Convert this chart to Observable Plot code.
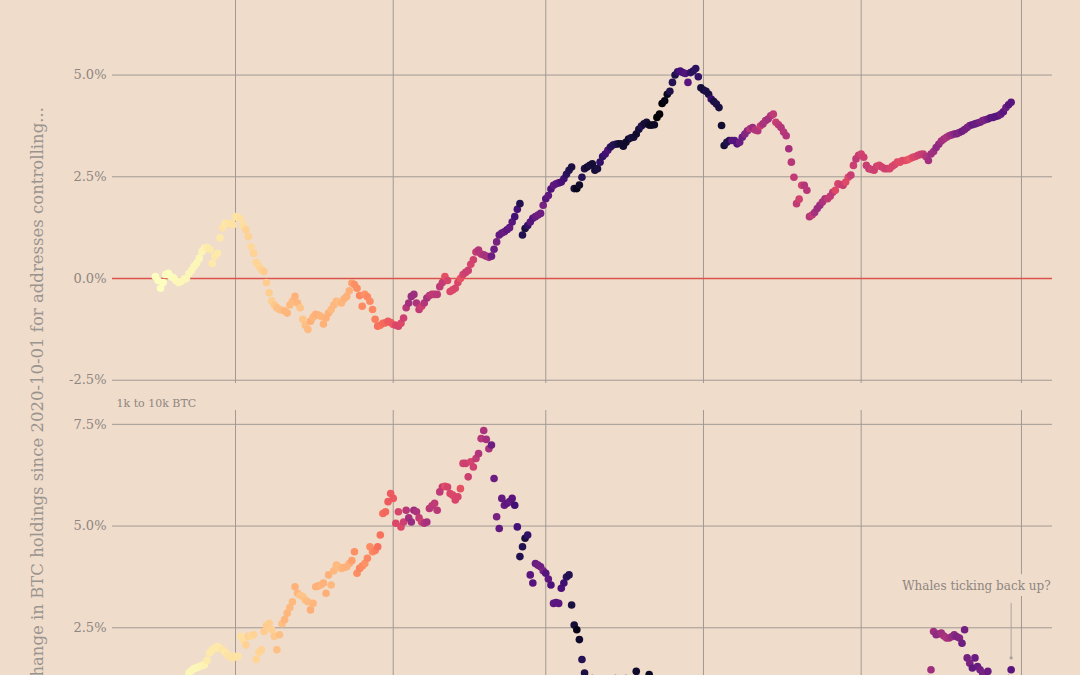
<!DOCTYPE html>
<html><head><meta charset="utf-8">
<script src="https://cdn.jsdelivr.net/npm/d3@7"></script>
<script src="https://cdn.jsdelivr.net/npm/@observablehq/plot@0.6"></script>
<style>
html,body{margin:0;padding:0;background:#f0dccb;overflow:hidden;width:1080px;height:675px}
#wrap{position:relative;width:1080px;height:675px;overflow:hidden;background:#f0dccb}
#chart{position:absolute;left:0;top:-72px}
#ylab{position:absolute;left:0;top:0}
</style></head><body>
<div id="wrap"><div id="chart"></div>
<svg id="ylab" width="80" height="675"><text id="ylabText" transform="translate(43,107) rotate(-90)" text-anchor="end" font-family="DejaVu Serif" font-size="16.5" fill="#9a948f"></text></svg>
</div>
<script>
const BG = "#f0dccb";
const yLabel = "Change in BTC holdings since 2020-10-01 for addresses controlling...";
const groups = ["10k to 100k BTC", "1k to 10k BTC"];
const firstDay = "2020-10-01";
const lastDay = "2021-08-28";
const yTicks = [-2.5, 0, 2.5, 5, 7.5];

// BTC price (k USD), daily, 2020-10-01 .. 2021-08-28 (drives colour)
const priceK = [
10.6,10.6,10.6,10.8,10.6,10.6,10.7,10.9,11.1,11.3,11.4,11.5,11.4,11.4,11.5,11.3,11.4,11.5,11.75,11.9,12.8,12.97,12.93,13.1,13.03,13.07,13.64,13.27,13.56,13.8,13.8,
13.74,13.55,14.0,14.15,15.6,15.58,14.83,15.48,15.33,15.3,15.7,16.3,16.3,16.07,15.97,16.73,17.65,17.8,17.82,18.68,18.7,18.4,18.36,19.1,18.73,17.15,17.14,17.72,18.18,19.63,
18.8,19.2,19.45,18.7,19.15,19.36,19.17,18.32,18.55,18.26,18.03,18.8,19.14,19.25,19.44,21.3,22.8,23.1,23.86,23.48,22.75,23.82,23.25,23.72,24.66,26.44,26.28,27.08,27.36,28.84,29.0,
29.37,32.13,32.78,31.97,33.99,36.82,39.37,40.8,40.25,38.24,35.54,33.9,37.3,39.19,36.8,36.18,35.79,36.63,36.07,35.55,30.83,33.0,32.1,32.29,32.37,32.57,30.43,33.47,34.32,34.3,33.11,
33.54,35.51,37.47,36.93,38.29,39.26,38.9,46.2,46.48,44.9,47.9,47.5,47.1,48.7,47.9,49.1,52.1,51.6,55.9,55.9,57.4,54.1,48.9,49.7,47.1,46.3,46.2,45.1,
49.6,48.4,50.5,48.4,48.8,48.9,51.2,52.4,54.9,55.9,57.3,57.8,61.2,59.0,55.6,56.9,58.9,57.6,58.3,58.1,57.35,54.1,54.3,52.3,51.3,55.0,55.8,55.8,57.6,58.8,58.9,
59.1,59.0,57.1,58.2,59.1,58.0,56.0,58.1,58.1,59.8,60.0,59.9,63.5,62.9,63.3,61.6,60.3,56.3,55.7,56.5,53.8,51.7,51.1,50.1,49.0,54.0,55.0,54.8,53.6,57.8,
57.8,56.6,57.2,53.3,57.4,56.4,57.4,58.8,58.2,55.9,56.8,49.2,49.7,49.9,46.8,46.7,43.5,42.9,37.0,40.8,37.3,37.5,34.8,38.8,38.4,39.3,38.5,35.7,34.6,35.7,37.3,
36.7,37.6,39.2,36.9,35.5,35.8,33.6,33.5,37.3,36.7,37.3,35.6,39.1,40.2,40.4,38.3,38.1,35.8,35.6,35.7,31.7,32.5,33.7,34.7,31.6,32.2,34.6,34.4,35.9,35.0,
33.5,33.8,34.7,35.3,33.7,34.2,33.9,32.9,33.8,33.5,34.3,33.1,32.7,32.8,31.8,31.4,31.5,31.8,30.8,29.8,32.1,32.3,33.6,34.3,35.4,37.3,39.4,40.0,40.0,42.2,41.6,
39.9,39.2,38.2,39.7,40.9,42.8,44.6,43.8,46.3,45.6,45.6,44.4,47.8,47.1,47.0,45.9,44.7,44.6,46.8,49.3,48.9,49.3,49.5,47.7,49.0,46.9,49.1,48.9
];

// % change since 2020-10-01, top facet (10k to 100k BTC)
const changeLarge = [
0.05,-0.05,-0.24,-0.1,0.1,0.13,0.05,0.02,-0.05,-0.1,
-0.07,-0.02,0.0,0.12,0.2,0.3,0.38,0.5,0.66,0.74,
0.76,0.72,0.37,0.55,0.62,1.0,1.25,1.35,1.36,1.35,
1.32,1.52,1.5,1.47,1.3,1.2,1.03,0.78,0.62,0.4,
0.3,0.22,0.17,-0.1,-0.35,-0.55,-0.65,-0.72,-0.76,-0.78,
-0.8,-0.85,-0.65,-0.56,-0.44,-0.6,-0.72,-1.0,-1.15,-1.25,
-1.05,-0.95,-0.88,-0.9,-0.93,-1.12,-0.97,-0.85,-0.76,-0.65,
-0.56,-0.58,-0.6,-0.5,-0.44,-0.3,-0.11,-0.15,-0.24,-0.42,
-0.68,-0.39,-0.45,-0.56,-0.76,-1.0,-1.17,-1.15,-1.1,-1.09,
-1.05,-1.08,-1.13,-1.15,-1.17,-1.1,-0.97,-0.72,-0.6,-0.44,
-0.39,-0.6,-0.76,-0.68,-0.6,-0.48,-0.42,-0.39,-0.39,-0.39,
-0.2,-0.1,0.05,-0.05,-0.32,-0.28,-0.24,-0.1,0.0,0.1,
0.15,0.2,0.35,0.46,0.65,0.7,0.6,0.58,0.55,0.52,
0.55,0.72,0.9,1.07,1.12,1.15,1.2,1.25,1.39,1.52,
1.7,1.84,1.07,1.23,1.3,1.39,1.48,1.52,1.56,1.6,
1.8,1.96,2.04,2.2,2.29,2.33,2.35,2.37,2.45,2.56,
2.66,2.74,2.21,2.21,2.3,2.49,2.7,2.74,2.78,2.82,
2.66,2.7,2.86,3.0,3.06,3.15,3.23,3.28,3.3,3.31,
3.31,3.25,3.35,3.43,3.46,3.47,3.55,3.67,3.75,3.8,
3.84,3.77,3.77,3.78,3.96,4.04,4.3,4.37,4.53,4.6,
4.82,5.0,5.08,5.1,5.06,5.04,4.82,5.06,5.1,5.16,
4.96,4.69,4.63,4.6,4.53,4.41,4.35,4.29,4.2,3.76,
3.27,3.35,3.39,3.39,3.39,3.31,3.35,3.47,3.55,3.63,
3.68,3.71,3.65,3.63,3.75,3.8,3.88,3.92,4.0,4.04,
3.84,3.78,3.71,3.6,3.51,3.19,2.86,2.49,1.84,1.95,
2.29,2.29,2.17,1.52,1.56,1.62,1.72,1.8,1.88,1.96,
1.96,2.02,2.12,2.17,2.33,2.31,2.29,2.37,2.49,2.54,
2.78,2.94,3.03,3.06,2.98,2.78,2.7,2.68,2.66,2.76,
2.78,2.74,2.7,2.7,2.7,2.76,2.8,2.86,2.86,2.9,
2.9,2.92,2.95,2.98,3.0,3.03,3.05,3.06,3.0,2.9,
3.06,3.12,3.22,3.3,3.38,3.43,3.47,3.51,3.53,3.55,
3.56,3.59,3.62,3.66,3.71,3.76,3.78,3.8,3.82,3.84,
3.88,3.9,3.92,3.95,3.96,3.98,4.0,4.04,4.1,4.2,
4.27,4.33
];

// % change since 2020-10-01, bottom facet (1k to 10k BTC)
const changeMid = [
0,0.15,0.3,0.2,0.45,0.55,0.5,0.7,0.8,0.9,
1.0,1.1,1.2,1.39,1.45,1.5,1.52,1.55,1.57,1.59,
1.7,1.88,1.95,2.0,2.04,2.0,1.96,1.9,1.84,1.78,
1.76,1.8,1.8,2.29,2.2,2.08,2.29,2.3,2.33,1.72,
1.9,1.96,2.41,2.55,2.61,2.45,2.29,1.96,2.33,2.6,
2.7,2.86,3.0,3.14,3.51,3.35,3.3,3.27,3.18,3.14,
2.94,3.1,3.51,3.53,3.55,3.6,3.35,3.8,3.55,3.9,
4.04,4.0,3.96,3.98,4.0,4.08,4.15,4.37,3.84,3.96,
4.02,4.08,4.21,4.49,4.37,4.4,4.49,4.78,5.31,5.35,
5.6,5.8,5.68,5.07,5.35,4.98,5.1,5.39,5.2,5.1,
5.39,5.35,5.2,5.1,5.07,5.1,5.43,5.5,5.56,5.39,
5.84,5.96,5.98,5.96,5.8,5.76,5.64,5.72,5.92,6.54,
6.54,6.21,6.58,6.45,6.66,6.78,7.15,7.35,7.13,6.9,
6.99,6.17,5.23,4.94,5.68,5.51,5.56,5.6,5.68,5.51,
4.98,4.25,4.49,4.7,4.78,3.8,3.6,4.08,4.04,4.0,
3.9,3.84,3.7,3.55,3.1,3.12,3.1,3.47,3.6,3.75,
3.8,3.06,2.57,2.45,2.21,1.72,1.39,1.2,1.1,1.25,
1.0,0.95,1.1,1.05,1.2,1.15,1.0,1.1,1.25,1.2,
1.2,1.15,1.25,1.2,1.1,1.2,1.43,1.25,1.2,1.15,
1.2,1.35,1.2,1.1,0.95,0.85,0.7,0.55,0.4,0.3,
0.15,0.05,-0.1,-0.2,-0.35,-0.3,-0.5,-0.6,-0.7,-0.65,
-0.8,-0.9,-0.85,-1.0,-1.1,-1.05,-1.2,-1.3,-1.25,-1.4,
-1.5,-1.45,-1.6,-1.7,-1.65,-1.8,-1.75,-1.9,-1.85,-1.95,
-2.0,-1.95,-2.05,-2.1,-2.0,-2.05,-1.95,-2.0,-1.9,-1.85,
-1.8,-1.85,-1.7,-1.75,-1.6,-1.65,-1.55,-1.5,-1.4,-1.45,
-1.3,-1.35,-1.2,-1.1,-1.15,-1.0,-0.95,-0.9,-0.8,-0.85,
-0.7,-0.65,-0.6,-0.5,-0.55,-0.4,-0.35,-0.3,-0.2,-0.25,
-0.1,-0.05,0.0,0.1,0.05,0.2,0.25,0.3,0.35,0.4,
0.45,0.5,0.55,0.6,0.55,0.65,0.7,0.75,0.8,0.85,
0.9,0.95,1.0,0.98,1.05,1.1,1.08,1.15,1.2,1.25,
1.47,2.41,2.33,2.35,2.37,2.3,2.25,2.25,2.28,2.33,
2.28,2.25,2.12,2.45,1.76,1.63,1.51,1.76,1.55,1.47,
1.39,1.35,1.43,1.2,1.15,1.1,1.05,1.1,1.15,1.2,
1.25,1.47
];

// annotation
const noteText = ["Whales ticking back up?"];
const noteTextDate = ["2021-08-14T14:00:00Z"];
const noteTextValue = [3.53];
const noteLineFrom = [3.11];
const noteLineTo = [1.76];

const dates = d3.utcDay.range(new Date(firstDay + "T00:00:00Z"), d3.utcDay.offset(new Date(lastDay + "T00:00:00Z"), 1));
const series = [changeLarge, changeMid];
const rows = [];
groups.forEach((g, gi) => {
  series[gi].forEach((v, i) => rows.push({group: g, date: dates[i], change: v, price: priceK[i] * 1000}));
});
const facetLabels = groups.map(g => ({group: g}));
const note = [{
  group: groups[1], text: noteText[0],
  tx: new Date(noteTextDate[0]), ty: noteTextValue[0],
  lx: dates[dates.length - 1], ly1: noteLineFrom[0], ly2: noteLineTo[0]
}];

const GRID = "#a19a94";
const TXT = "#8d8681";

const chart = Plot.plot({
  width: 1080,
  height: 937,
  marginLeft: 112,
  marginRight: 28,
  marginTop: 30,
  marginBottom: 30,
  style: {background: "transparent", fontFamily: "DejaVu Serif", fontSize: "13px", color: TXT, overflow: "visible"},
  x: {type: "utc", domain: [new Date("2020-09-14T10:00:00Z"), new Date("2021-09-13T00:00:00Z")], label: null},
  y: {domain: [-2.58, 7.84], label: null},
  fy: {domain: groups, paddingInner: 0.0597, paddingOuter: 0, axis: null, label: null},
  color: {type: "linear", scheme: "magma", reverse: true},
  marks: [
    Plot.gridY(yTicks, {stroke: GRID, strokeOpacity: 1, strokeWidth: 1}),
    Plot.gridX({ticks: d3.utcMonth.every(2), stroke: GRID, strokeOpacity: 1, strokeWidth: 1}),
    Plot.ruleY([0], {stroke: "#d9544c", strokeWidth: 1.3}),
    Plot.axisY(yTicks, {tickSize: 0, tickPadding: 6, tickFormat: d => d.toFixed(1) + "%", fontSize: 13, fill: TXT, label: null}),
    Plot.axisX({ticks: d3.utcMonth.every(2), tickSize: 0, tickPadding: 8, tickFormat: "%b %Y", fill: TXT, label: null}),
    Plot.dot(rows, {x: "date", y: "change", fy: "group", fill: "price", r: 3.8}),
    Plot.text(facetLabels, {fy: "group", text: "group", frameAnchor: "top-left", textAnchor: "start", lineAnchor: "bottom", dx: 4, dy: -4, fontSize: 11, fill: TXT}),
    Plot.link(note, {x1: "lx", x2: "lx", y1: "ly1", y2: "ly2", fy: "group", stroke: "#aaa39e", strokeWidth: 1, markerEnd: "dot"}),
    Plot.text(note, {x: "tx", y: "ty", fy: "group", text: "text", fontSize: 12, fill: TXT, stroke: BG, strokeWidth: 12, paintOrder: "stroke"})
  ]
});
document.getElementById("chart").appendChild(chart);
document.getElementById("ylabText").textContent = yLabel;
</script>
</body></html>
